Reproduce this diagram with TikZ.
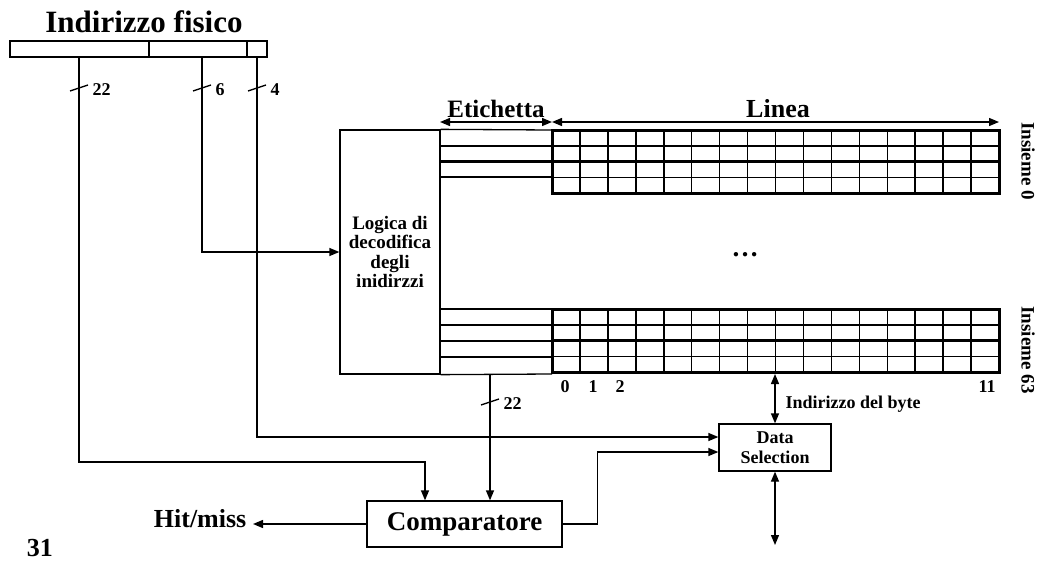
\documentclass[tikz,border=0pt]{standalone}
\usepackage{fontspec}
\setmainfont{Liberation Serif}
\usetikzlibrary{arrows.meta,calc,positioning}
\newcommand{\fsz}[2]{\fontsize{#1}{#2}\selectfont\bfseries}

\begin{document}
\begin{tikzpicture}[x=1pt,y=-1pt,line width=1.3pt,
  arr/.style={-{Triangle[length=10pt,width=8pt]}},
  dbl/.style={{Triangle[length=10pt,width=8pt]}-{Triangle[length=10pt,width=8pt]}},
  blk/.style={draw,line width=1.3pt,inner sep=0pt,align=center},
  lab/.style={inner sep=0pt}]
\useasboundingbox (0,0) rectangle (1039,562);

% indirizzo fisico
\node[lab,anchor=base,font=\fsz{31}{31}] (titolo) at (144,32) {Indirizzo fisico};
\draw (10,41) rectangle (267,57);
\draw (149,41)--(149,57) (247,41)--(247,57);
\coordinate (tag) at (79,57);
\coordinate (set) at (202,57);
\coordinate (off) at (257,57);
\foreach \bx/\by/\bn in {79/88/22,202/88/6,257/88/4,490/402/22}{
  \draw (\bx-9,\by+3) -- (\bx+9,\by-3);
  \node[lab,anchor=west,font=\fsz{18}{18}] (w\bx) at (\bx+13,\by+2) {\bn};
}

% logica di decodifica e etichette
\node[blk,minimum width=100pt,minimum height=244pt,font=\fsz{19}{19.5}] (decod) at (390,252) {Logica di\\decodifica\\degli\\inidirzzi};
\draw (decod.north east) -- (552,130);
\draw (decod.south east) -- (552,374);
\foreach \yy in {146,177,309,325,357} \draw (440,\yy) -- (552,\yy);
\foreach \yy in {161.5,341} \draw[line width=2.2pt] (440,\yy) -- (552,\yy);

% linee della cache (insieme 0 e insieme 63)
\foreach \yt in {130,309}{
  \foreach \i in {1,...,15} \draw[line width=1.5pt] (552+\i*27.94,\yt) -- ++(0,63);
  \foreach \r in {15.75,47.25} \draw[line width=1.5pt] (552,\yt+\r) -- ++(447,0);
  \draw[line width=2.5pt] (552,\yt+31.5) -- ++(447,0);
  \draw[line width=3pt] (552,\yt) rectangle ++(447,63);
}
\coordinate (etl) at (440,122);
\coordinate (etr) at (552,122);
\coordinate (lnr) at (999,122);
\draw[dbl] (etl) -- (etr);
\draw[dbl] (etr) -- (lnr);
\node[lab,anchor=base,font=\fsz{25}{25}] (etich) at (496,117) {Etichetta};
\node[lab,anchor=base,font=\fsz{26}{26}] (linea) at (778,117) {Linea};
\node[lab,anchor=base,font=\fsz{27}{27}] (dots) at (745,256) {…};
\node[lab,rotate=-90,font=\fsz{19}{19}] (ins0) at (1028,161) {Insieme 0};
\node[lab,rotate=-90,font=\fsz{19}{19}] (ins63) at (1028,350) {Insieme 63};
\foreach \cx/\cn in {565/0,593/1,620/2,987/11}
  \node[lab,anchor=base,font=\fsz{18}{18}] (c\cn) at (\cx,392) {\cn};

% data selection e comparatore
\node[blk,minimum width=112pt,minimum height=47pt,font=\fsz{18}{20}] (dsel) at (775,447.5) {Data\\Selection};
\node[blk,minimum width=195pt,minimum height=46pt,font=\fsz{27}{27}] (comp) at (464.5,524) {Comparatore};
\node[lab,anchor=base east,font=\fsz{26}{26}] (hit) at (247,527) {Hit/miss};
\node[lab,anchor=base,font=\fsz{26}{26}] (pag) at (40,556) {31};

\coordinate (byteaddr) at (775,374);
\draw[dbl] (byteaddr) -- (dsel.north);
\node[lab,anchor=base west,font=\fsz{18}{18}] (bytelab) at (785,408) {Indirizzo del byte};
\coordinate (dout) at (775,545);
\draw[dbl] (dsel.south) -- (dout);

\coordinate (k1) at (425,462);
\draw[arr] (tag) |- (k1) -- (k1 |- comp.north);
\draw[arr] (set) |- (decod.west);
\draw[arr] (off) |- ([yshift=10.5pt]dsel.west);
\coordinate (tagout) at (490,374);
\draw[arr] (tagout) -- (tagout |- comp.north);
\draw[arr] (comp.east) -- ++(35,0) |- ([yshift=-4.5pt]dsel.west);
\draw[arr] (comp.west) -- ([xshift=6pt]comp.west -| hit.east);
\end{tikzpicture}
\end{document}
